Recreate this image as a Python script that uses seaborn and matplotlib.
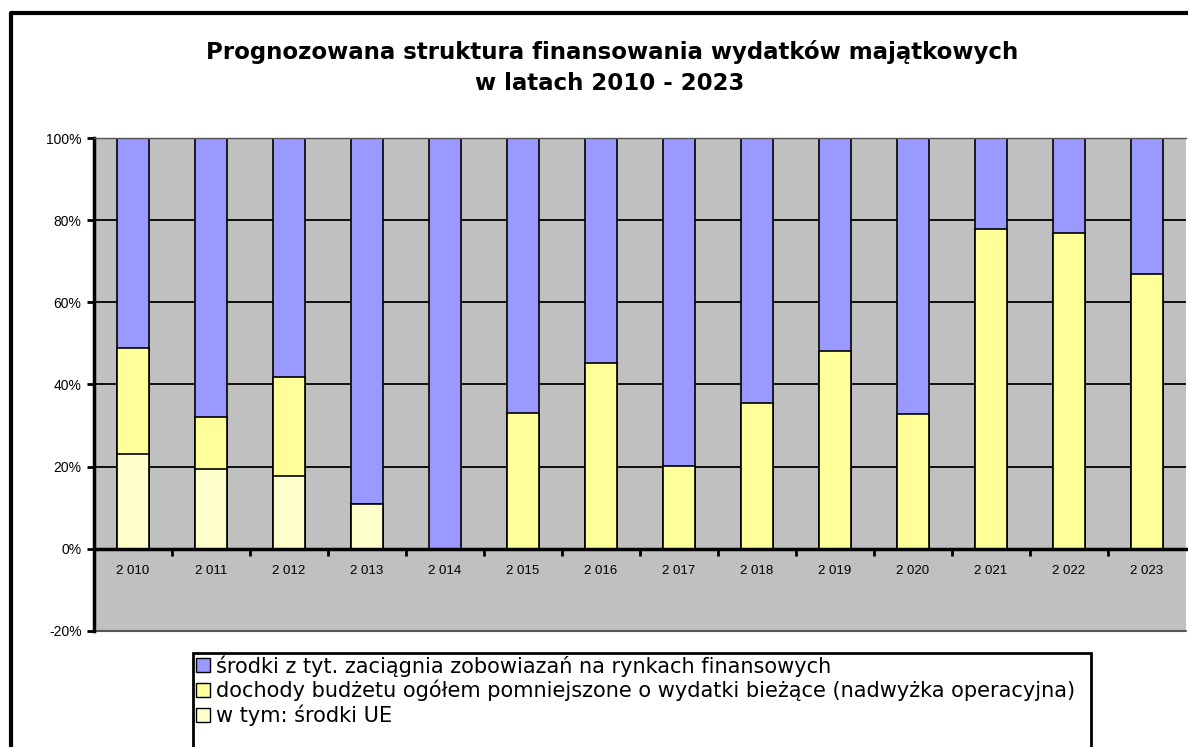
import numpy as np
import pandas as pd
import matplotlib
matplotlib.use("Agg")
import matplotlib.pyplot as plt
import seaborn as sns
from matplotlib.patches import Patch, Rectangle
from matplotlib.lines import Line2D
from matplotlib.ticker import FixedLocator

# data (percent shares of each year)
years = ["2 010", "2 011", "2 012", "2 013", "2 014", "2 015", "2 016",
         "2 017", "2 018", "2 019", "2 020", "2 021", "2 022", "2 023"]
srodki_ue = [23.1, 19.5, 17.8, 11.0, 0, 0, 0, 0, 0, 0, 0, 0, 0, 0]
dochody = [25.8, 12.6, 24.0, 0, 0, 33.1, 45.3, 20.2, 35.5, 48.2, 32.8, 77.9, 76.9, 66.9]
kredyty = [51.1, 67.9, 58.2, 89.0, 100, 66.9, 54.7, 79.8, 64.5, 51.8, 67.2, 22.1, 23.1, 33.1]

labels = ["środki z tyt. zaciągnia zobowiazań na rynkach finansowych",
          "dochody budżetu ogółem pomniejszone o wydatki bieżące (nadwyżka operacyjna)",
          "w tym: środki UE"]
colors = ["#9999FF", "#FFFF99", "#FFFFCC"]

df = pd.DataFrame({"rok": years, "ue": srodki_ue, "doch": dochody, "kred": kredyty})
df["lvl_ue"] = df["ue"]
df["lvl_doch"] = df["ue"] + df["doch"]
df["lvl_all"] = df["lvl_doch"] + df["kred"]

sns.set_style("white")
plt.rcParams["font.family"] = ["Liberation Sans", "DejaVu Sans"]
plt.rcParams["text.color"] = "black"
plt.rcParams["xtick.color"] = "black"
plt.rcParams["ytick.color"] = "black"

fig = plt.figure(figsize=(11.88, 7.47), dpi=100)
W, H = 1188, 747
ax = fig.add_axes([94 / W, 1 - 631 / H, (1186 - 94) / W, (631 - 138) / H])
ax.set_facecolor("#C0C0C0")

# stacked look: draw the tallest level first, then the lower ones on top
for col, c in zip(["lvl_all", "lvl_doch", "lvl_ue"], colors):
    sns.barplot(data=df, x="rok", y=col, color=c, width=0.41, edgecolor="black",
                linewidth=1.2, saturation=1, ax=ax, zorder=2)

ax.set_ylim(-20, 100)
ax.set_xlim(-0.5, len(years) - 0.5)
ax.set_yticks(np.arange(-20, 101, 20))
ax.set_yticklabels([f"{v}%" for v in range(-20, 101, 20)], fontsize=10)
for v in range(20, 101, 20):
    ax.axhline(v, color="black", lw=1.3, zorder=1)
ax.axhline(-20, color="#555555", lw=1.5, zorder=1, clip_on=False)

ax.set_xlabel("")
ax.set_ylabel("")

# x axis sits on the zero line
ax.spines["bottom"].set_position(("data", 0))
ax.spines["bottom"].set_color("black")
ax.spines["bottom"].set_linewidth(2.5)
ax.spines["bottom"].set_zorder(4)
ax.tick_params(axis="x", which="major", length=0, labelsize=9.5, pad=12)
ax.xaxis.set_minor_locator(FixedLocator(np.arange(0.5, len(years) - 1, 1)))
ax.tick_params(axis="x", which="minor", length=5, width=2, direction="out", bottom=True)
ax.tick_params(axis="y", length=5, width=2, direction="out", left=True, pad=4)

ax.spines["top"].set_color("#555555")
ax.spines["top"].set_linewidth(1)
ax.spines["right"].set_visible(False)
ax.spines["left"].set_color("black")
ax.spines["left"].set_linewidth(2.5)

fig.text(0.515, 1 - 52 / H, "Prognozowana struktura finansowania wydatków majątkowych",
         ha="center", va="center", fontsize=16.5, fontweight="bold", family="DejaVu Sans")
fig.text(0.513, 1 - 84 / H, "w latach 2010 - 2023",
         ha="center", va="center", fontsize=16.5, fontweight="bold", family="DejaVu Sans")

# outer frame (cut by the image at right and bottom)
fig.add_artist(Line2D([11 / W, 11 / W, 1.01], [-0.01, 1 - 13 / H, 1 - 13 / H],
                      transform=fig.transFigure, color="black", lw=3))

# legend box
fig.add_artist(Rectangle((193 / W, -0.05), (1091 - 193) / W, (747 - 653) / H + 0.05,
                         transform=fig.transFigure, facecolor="white",
                         edgecolor="black", lw=2))
handles = [Patch(facecolor=c, edgecolor="black", lw=1) for c in colors]
fig.legend(handles, labels, loc="upper left", bbox_to_anchor=(191 / W, 1 - 650 / H),
           frameon=False, prop={"family": "DejaVu Sans", "size": 15},
           handlelength=0.65, handleheight=0.65, handletextpad=0.3,
           labelspacing=0.15, borderaxespad=0, borderpad=0.25)

fig.savefig("out.png", dpi=100)
